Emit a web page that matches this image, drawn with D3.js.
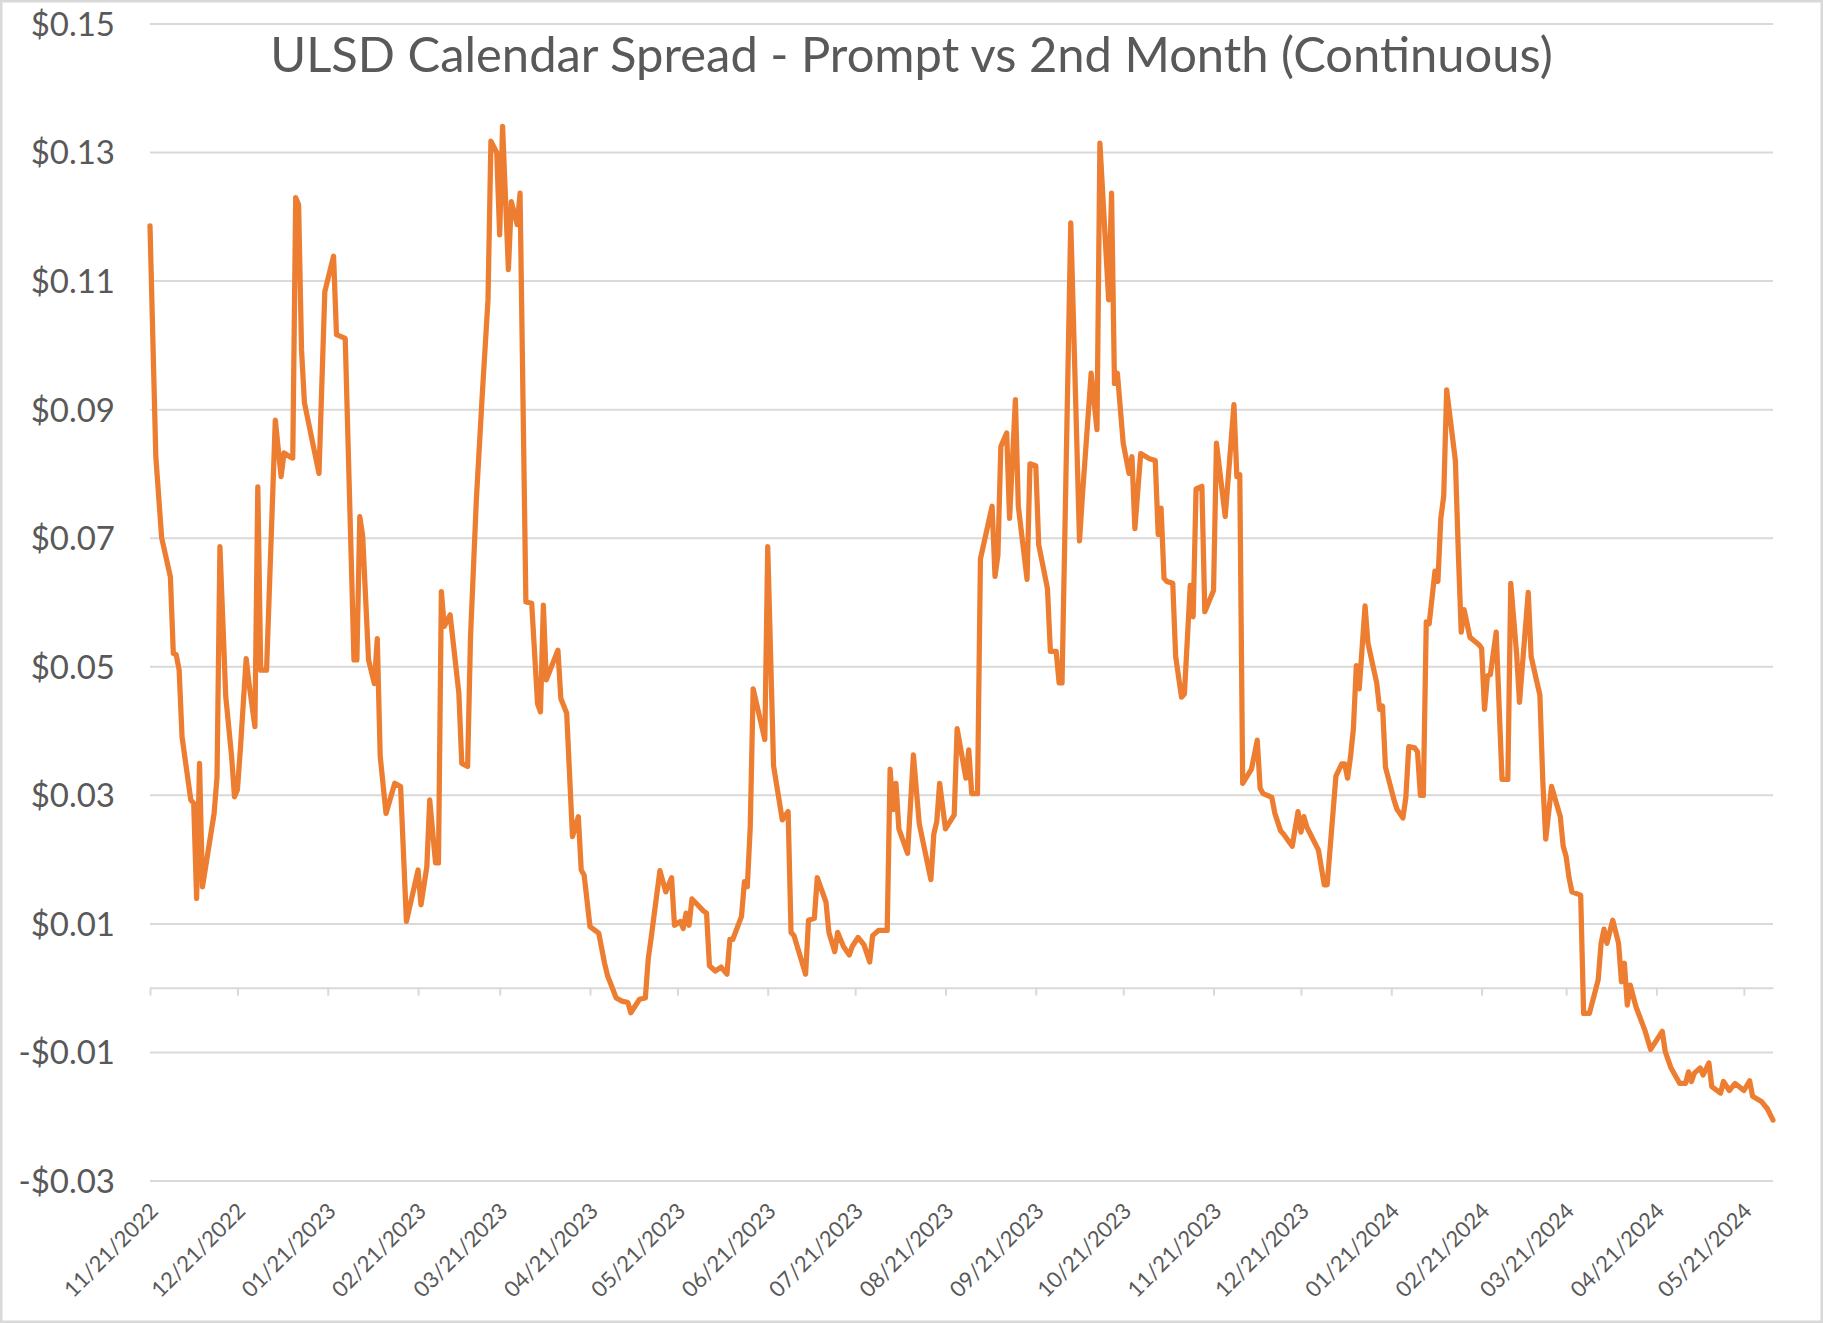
<!DOCTYPE html>
<html>
<head>
<meta charset="utf-8">
<script src="https://cdn.jsdelivr.net/npm/d3@7"></script>
<style>
  body { margin: 0; background: #fff; }
  text { font-family: Lato, "Open Sans", sans-serif; fill: #595959; }
</style>
</head>
<body>
<div id="chart"></div>
<script>
// chart text + axes
const chartTitle = "ULSD Calendar Spread - Prompt vs 2nd Month (Continuous)";
const startDate = "2022-11-21";
const endDate = "2024-05-31";
const tickLabels = ["11/21/2022", "12/21/2022", "01/21/2023", "02/21/2023", "03/21/2023",
  "04/21/2023", "05/21/2023", "06/21/2023", "07/21/2023", "08/21/2023", "09/21/2023",
  "10/21/2023", "11/21/2023", "12/21/2023", "01/21/2024", "02/21/2024", "03/21/2024",
  "04/21/2024", "05/21/2024"];
const yTicks = [-0.03, -0.01, 0.01, 0.03, 0.05, 0.07, 0.09, 0.11, 0.13, 0.15];

// series: days after 11/21/2022, spread in $/gal
const dayOffset = [0, 2, 4, 7, 8, 9, 10, 11, 14, 15, 16, 17, 18, 22, 23, 24, 26, 28, 29, 30,
  31, 33, 34, 36, 37, 38, 40, 43, 45, 46, 48, 49, 50, 51, 52, 53, 58, 60, 63, 64,
  67, 70, 71, 72, 73, 75, 77, 78, 79, 81, 84, 86, 88, 92, 93, 95, 96, 98, 99, 100,
  101, 103, 106, 107, 109, 110, 112, 114, 116, 117, 119, 120, 121, 123, 124, 126, 127, 129, 131, 133,
  134, 135, 136, 140, 141, 143, 145, 147, 148, 149, 151, 154, 156, 157, 160, 162, 164, 165, 168, 170,
  171, 172, 175, 177, 179, 180, 182, 183, 184, 185, 186, 190, 191, 192, 194, 196, 198, 199, 200, 203,
  204, 205, 206, 207, 211, 212, 214, 217, 219, 220, 221, 225, 226, 228, 229, 232, 233, 235, 236, 238,
  240, 241, 243, 245, 247, 248, 250, 253, 254, 255, 256, 257, 260, 262, 264, 268, 269, 270, 271, 273,
  276, 277, 280, 281, 282, 284, 285, 287, 289, 290, 291, 292, 294, 295, 297, 298, 301, 302, 304, 305,
  308, 309, 311, 312, 313, 316, 319, 320, 323, 325, 326, 329, 330, 331, 332, 334, 336, 337, 338, 340,
  343, 345, 346, 347, 348, 349, 351, 352, 354, 355, 357, 358, 359, 361, 362, 365, 366, 369, 372, 373,
  374, 375, 378, 379, 380, 381, 382, 385, 386, 388, 389, 392, 394, 395, 396, 397, 401, 403, 404, 407,
  409, 410, 411, 412, 413, 414, 415, 417, 418, 421, 422, 423, 424, 427, 428, 430, 431, 432, 434, 435,
  436, 437, 438, 439, 440, 441, 442, 443, 444, 445, 448, 449, 450, 451, 453, 456, 457, 458, 459, 460,
  462, 464, 466, 467, 469, 470, 473, 474, 477, 478, 479, 481, 484, 485, 486, 487, 488, 491, 492, 494,
  497, 498, 499, 500, 502, 504, 505, 506, 507, 508, 510, 513, 515, 519, 520, 522, 525, 527, 528, 529,
  530, 532, 533, 535, 536, 539, 540, 542, 544, 547, 549, 550, 553, 555, 557];
const spread = [0.1185, 0.0826, 0.0700, 0.0639, 0.0520, 0.0518, 0.0494, 0.0390, 0.0292, 0.0287, 0.0139, 0.0349, 0.0157, 0.0271, 0.0328, 0.0686, 0.0453, 0.0360, 0.0297, 0.0308,
  0.0370, 0.0512, 0.0473, 0.0406, 0.0779, 0.0494, 0.0494, 0.0883, 0.0795, 0.0832, 0.0826, 0.0824, 0.1229, 0.1218, 0.0993, 0.0910, 0.0800, 0.1083, 0.1138, 0.1016,
  0.1010, 0.0510, 0.0510, 0.0733, 0.0702, 0.0510, 0.0473, 0.0543, 0.0360, 0.0271, 0.0318, 0.0313, 0.0103, 0.0183, 0.0129, 0.0188, 0.0292, 0.0194, 0.0194, 0.0616,
  0.0562, 0.0580, 0.0458, 0.0349, 0.0344, 0.0546, 0.0759, 0.0920, 0.1070, 0.1317, 0.1299, 0.1171, 0.1340, 0.1117, 0.1223, 0.1187, 0.1236, 0.0600, 0.0598, 0.0442,
  0.0429, 0.0595, 0.0479, 0.0525, 0.0450, 0.0427, 0.0235, 0.0266, 0.0183, 0.0175, 0.0095, 0.0085, 0.0038, 0.0019, -0.0016, -0.0021, -0.0023, -0.0039, -0.0018, -0.0016,
  0.0045, 0.0078, 0.0182, 0.0149, 0.0171, 0.0097, 0.0103, 0.0092, 0.0116, 0.0097, 0.0138, 0.0119, 0.0116, 0.0034, 0.0026, 0.0032, 0.0021, 0.0075, 0.0075, 0.0111,
  0.0165, 0.0157, 0.0250, 0.0465, 0.0386, 0.0686, 0.0345, 0.0261, 0.0274, 0.0086, 0.0081, 0.0021, 0.0105, 0.0108, 0.0171, 0.0133, 0.0086, 0.0056, 0.0086, 0.0064,
  0.0051, 0.0064, 0.0078, 0.0067, 0.0040, 0.0081, 0.0089, 0.0089, 0.0340, 0.0277, 0.0318, 0.0247, 0.0209, 0.0362, 0.0255, 0.0168, 0.0239, 0.0258, 0.0318, 0.0247,
  0.0269, 0.0403, 0.0326, 0.0370, 0.0302, 0.0302, 0.0667, 0.0708, 0.0749, 0.0640, 0.0673, 0.0842, 0.0863, 0.0730, 0.0915, 0.0749, 0.0635, 0.0815, 0.0812, 0.0689,
  0.0621, 0.0523, 0.0523, 0.0474, 0.0474, 0.1190, 0.0695, 0.0765, 0.0956, 0.0868, 0.1314, 0.1070, 0.1236, 0.0940, 0.0956, 0.0847, 0.0800, 0.0826, 0.0714, 0.0831,
  0.0823, 0.0820, 0.0705, 0.0746, 0.0637, 0.0632, 0.0629, 0.0515, 0.0452, 0.0457, 0.0626, 0.0577, 0.0776, 0.0780, 0.0585, 0.0618, 0.0847, 0.0733, 0.0907, 0.0795,
  0.0798, 0.0318, 0.0340, 0.0362, 0.0385, 0.0310, 0.0302, 0.0296, 0.0272, 0.0244, 0.0239, 0.0220, 0.0274, 0.0242, 0.0266, 0.0250, 0.0214, 0.0160, 0.0160, 0.0329,
  0.0348, 0.0348, 0.0326, 0.0359, 0.0403, 0.0501, 0.0465, 0.0594, 0.0536, 0.0474, 0.0433, 0.0438, 0.0343, 0.0291, 0.0277, 0.0264, 0.0296, 0.0375, 0.0373, 0.0367,
  0.0299, 0.0299, 0.0569, 0.0566, 0.0607, 0.0648, 0.0632, 0.0730, 0.0765, 0.0930, 0.0820, 0.0678, 0.0553, 0.0588, 0.0545, 0.0534, 0.0528, 0.0433, 0.0485, 0.0487,
  0.0553, 0.0324, 0.0324, 0.0629, 0.0520, 0.0444, 0.0615, 0.0515, 0.0455, 0.0321, 0.0231, 0.0313, 0.0266, 0.0220, 0.0204, 0.0171, 0.0149, 0.0144, -0.0040, -0.0040,
  0.0012, 0.0069, 0.0091, 0.0069, 0.0105, 0.0069, 0.0009, 0.0038, -0.0027, 0.0004, -0.0030, -0.0066, -0.0096, -0.0068, -0.0099, -0.0125, -0.0149, -0.0149, -0.0131, -0.0146,
  -0.0133, -0.0125, -0.0136, -0.0117, -0.0154, -0.0164, -0.0146, -0.0160, -0.0149, -0.0160, -0.0145, -0.0169, -0.0177, -0.0188, -0.0206];

const w = 1823, h = 1323;
const plot = { left: 150, right: 1773, top: 23.5, bottom: 1180.5 };

const parseIso = d3.timeParse("%Y-%m-%d");
const parseLabel = d3.timeParse("%m/%d/%Y");
const start = parseIso(startDate);

const data = dayOffset.map((d, i) => ({ date: d3.timeDay.offset(start, d), value: spread[i] }));
const tickDates = tickLabels.map(parseLabel);

const svg = d3.select("#chart").append("svg")
    .attr("width", w)
    .attr("height", h);

svg.append("rect")
    .attr("x", 1.25).attr("y", 1.25)
    .attr("width", w - 2.5).attr("height", h - 2.5)
    .attr("fill", "#fff")
    .attr("stroke", "#d9d9d9")
    .attr("stroke-width", 2.5);

const xScale = d3.scaleTime()
    .domain([start, parseIso(endDate)])
    .range([plot.left, plot.right]);

const yScale = d3.scaleLinear()
    .domain([-0.03, 0.15])
    .range([plot.bottom, plot.top]);

const money = v => (v < 0 ? "-$" : "$") + Math.abs(v).toFixed(2);

// gridlines
const grid = svg.append("g")
    .attr("transform", `translate(${plot.left},0)`)
    .call(d3.axisLeft(yScale).tickValues(yTicks).tickSize(-(plot.right - plot.left)).tickFormat(""));
grid.select(".domain").remove();
grid.selectAll("line").attr("stroke", "#d9d9d9").attr("stroke-width", 2);

// y labels
const yAxis = svg.append("g")
    .attr("transform", "translate(115,0)")
    .call(d3.axisLeft(yScale).tickValues(yTicks).tickSize(0).tickPadding(0).tickFormat(money));
yAxis.select(".domain").remove();
yAxis.selectAll("text")
    .attr("font-family", null)
    .style("font-size", "33px")
    .attr("fill", null)
    .attr("dy", "0.36em");

// horizontal axis crossing at zero
const xAxis = svg.append("g")
    .attr("transform", `translate(0,${yScale(0)})`)
    .call(d3.axisBottom(xScale).tickValues(tickDates).tickSize(8).tickSizeOuter(0).tickFormat(""));
xAxis.select(".domain").attr("stroke", "#d9d9d9").attr("stroke-width", 2);
xAxis.selectAll("line").attr("stroke", "#d9d9d9").attr("stroke-width", 2);

// date labels sit low, under the plot
svg.append("g").selectAll("text")
    .data(tickDates)
    .enter().append("text")
    .attr("transform", (d) => `translate(${xScale(d) + 4},1207) rotate(-45)`)
    .attr("text-anchor", "end")
    .attr("dy", "0.35em")
    .style("font-size", "22px")
    .text((d, i) => tickLabels[i]);

// the spread line
svg.append("path")
    .datum(data)
    .attr("fill", "none")
    .attr("stroke", "#ed7d31")
    .attr("stroke-width", 5.25)
    .attr("stroke-linejoin", "round")
    .attr("stroke-linecap", "round")
    .attr("d", d3.line().x(d => xScale(d.date)).y(d => yScale(d.value)));

// title, fitted to the reference width
const title = svg.append("text")
    .attr("x", w / 2)
    .attr("y", 72)
    .attr("text-anchor", "middle")
    .style("font-size", "48px")
    .text(chartTitle);
const tw = title.node().getComputedTextLength();
title.style("font-size", (48 * 1284 / tw).toFixed(1) + "px");
</script>
</body>
</html>
